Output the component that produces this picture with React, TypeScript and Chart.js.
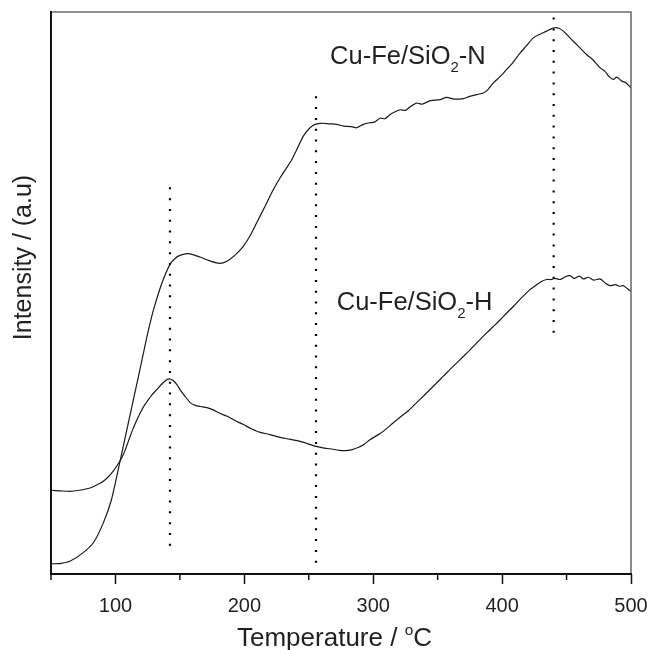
import React, { useEffect, useRef } from 'react';
import { Chart, registerables } from 'chart.js';

Chart.register(...registerables);

const FONT = '"Liberation Sans", Arial, Helvetica, sans-serif';
const INK = '#231f20';

// Cu-Fe/SiO2-N profile (temperature °C, intensity a.u.)
const nTemp = [
  50, 58, 65, 75, 83, 90.6, 97, 103.5, 108.7, 113.9, 118, 121.6, 125.5, 129.4, 134.6, 138.5, 142.3, 146, 150,
  156.5, 165.6, 172, 179.8, 184, 188.9, 194, 199.2, 204, 209.6, 216, 222.5, 228, 232.9, 237, 240.6, 246, 251,
  255, 260, 266, 271.7, 277, 283.3, 287, 292.3, 297, 301, 305.3, 309, 314, 320.8, 325, 329, 333.7, 338, 344,
  351.8, 357, 363, 369.9, 375, 380.3, 385.4, 389, 393.2, 398, 403.6, 408, 413.9, 419, 424.2, 429, 434.6, 438,
  441, 444, 447.5, 451, 455.2, 460, 465.6, 470, 475.9, 480, 483, 486.3, 489, 492.8, 496, 500,
];
const nIntensity = [
  1.8, 1.9, 2.3, 3.8, 5.6, 9.1, 13.3, 20.0, 25.5, 31.0, 35.3, 39.2, 43.3, 46.9, 50.8, 53.2, 55.1, 56.1, 56.7,
  57.0, 56.4, 55.8, 55.3, 55.4, 56.0, 57.0, 58.3, 60.0, 62.5, 65.4, 68.4, 70.6, 72.3, 73.8, 75.5, 78.0, 79.4,
  80.0, 80.2, 80.1, 80.0, 79.7, 79.6, 79.4, 80.0, 80.3, 80.4, 81.1, 81.0, 81.9, 82.6, 82.5, 83.2, 83.8, 83.6, 84.2,
  84.4, 84.8, 84.5, 84.6, 85.0, 85.3, 85.6, 86.2, 87.4, 88.4, 89.8, 90.9, 92.7, 94.0, 95.4, 96.0, 96.6, 97.0,
  97.2, 97.1, 96.6, 95.8, 94.8, 93.7, 92.4, 91.6, 90.1, 89.4, 88.5, 88.0, 88.4, 87.7, 87.4, 86.5,
];

// Cu-Fe/SiO2-H profile
const hTemp = [
  50, 57, 64.7, 72, 80.3, 85, 90.6, 94.5, 98.3, 101.5, 104.9, 107.5, 110, 113.9, 117, 119.1, 121.6, 124.3, 128,
  132, 136, 139.5, 142.3, 145, 148, 150.1, 154, 158, 162, 166, 171, 175.9, 181, 186.3, 192, 199.2, 205, 212.2,
  220, 227.7, 235, 243.2, 249, 255.6, 262, 268.8, 274, 278.1, 283, 288.2, 293, 297.5, 304, 309, 315.6, 322, 327,
  333.7, 340, 347, 354.4, 360, 365, 369.9, 376, 382.8, 388, 393, 398.4, 403, 408.7, 414, 421.6, 427, 431, 434.6,
  438, 441, 445, 449, 452.7, 456, 460, 463, 467, 471, 476, 480, 483.7, 488, 491, 494, 497, 500,
];
const hIntensity = [
  14.9, 14.8, 14.7, 14.9, 15.3, 15.8, 16.5, 17.3, 18.3, 19.4, 20.7, 22.0, 23.6, 26.0, 27.6, 28.6, 29.7, 30.6, 31.8,
  32.8, 33.8, 34.5, 34.7, 34.4, 33.6, 32.8, 31.6, 30.5, 30.0, 29.8, 29.6, 29.2, 28.6, 28.1, 27.4, 26.6, 25.9, 25.2,
  24.8, 24.3, 24.0, 23.6, 23.2, 22.7, 22.4, 22.2, 22.0, 21.95, 22.1, 22.5, 23.1, 23.9, 24.8, 25.6, 26.9, 28.1, 29.0,
  30.5, 31.9, 33.5, 35.2, 36.5, 37.6, 38.7, 40.1, 41.7, 42.9, 44.0, 45.2, 46.3, 47.6, 48.9, 50.6, 51.5, 52.1, 52.4,
  52.4, 52.6, 52.4, 52.9, 53.1, 52.6, 53.0, 52.5, 52.8, 52.3, 52.5, 51.8, 51.3, 51.5, 51.2, 51.3, 50.8, 50.3,
];

// dotted reference lines
const markerTemps = [142.3, 255.6, 440];
const markerTops = [68.8, 85.0, 99.0];
const markerBottoms = [3.6, 1.2, 41.4];

// axis ticks
const majorTicks = [100, 200, 300, 400, 500];
const minorTicks = [50, 150, 250, 350, 450];

// series labels anchored in data space (left edge, baseline)
const seriesLabels = [
  { name: 'Cu-Fe/SiO', sub: '2', tail: '-N', x: 266.5, y: 90.8 },
  { name: 'Cu-Fe/SiO', sub: '2', tail: '-H', x: 271.7, y: 46.9 },
];

type Part = { t: string; size: number; dy: number };

function drawRich(ctx: CanvasRenderingContext2D, parts: Part[], x: number, y: number) {
  let cx = x;
  for (const p of parts) {
    ctx.font = `${p.size}px ${FONT}`;
    ctx.fillText(p.t, cx, y + p.dy);
    cx += ctx.measureText(p.t).width;
  }
}

export default function App() {
  const ref = useRef<HTMLCanvasElement>(null);

  useEffect(() => {
    const canvas = ref.current!;
    const toXY = (xs: number[], ys: number[]) => xs.map((x, i) => ({ x, y: ys[i] }));

    const curve = (xs: number[], ys: number[]) => ({
      type: 'line' as const,
      data: toXY(xs, ys),
      borderColor: '#1a1a1a',
      borderWidth: 1.2,
      pointRadius: 0,
      tension: 0.25,
      fill: false,
    });

    const markers = markerTemps.map((t, i) => ({
      type: 'line' as const,
      data: [
        { x: t, y: markerTops[i] },
        { x: t, y: markerBottoms[i] },
      ],
      borderColor: '#000',
      borderWidth: 2.2,
      borderDash: [2, 8.8],
      borderCapStyle: 'butt' as const,
      pointRadius: 0,
      tension: 0,
      fill: false,
    }));

    const overlay = {
      id: 'overlay',
      afterDraw(chart: any) {
        const { ctx, chartArea: a, scales } = chart;
        const xs = scales.x;
        const ys = scales.y;
        ctx.save();
        // frame
        ctx.lineCap = 'square';
        ctx.lineWidth = 1.6;
        ctx.strokeStyle = '#6d6d6d';
        ctx.beginPath();
        ctx.moveTo(a.left, a.top);
        ctx.lineTo(a.right, a.top);
        ctx.lineTo(a.right, a.bottom);
        ctx.stroke();
        ctx.strokeStyle = '#111';
        ctx.lineWidth = 2;
        ctx.beginPath();
        ctx.moveTo(a.left, a.top);
        ctx.lineTo(a.left, a.bottom);
        ctx.lineTo(a.right, a.bottom);
        ctx.stroke();
        // minor ticks
        ctx.lineCap = 'butt';
        ctx.lineWidth = 1.5;
        for (const v of minorTicks) {
          const px = xs.getPixelForValue(v);
          ctx.beginPath();
          ctx.moveTo(px, a.bottom);
          ctx.lineTo(px, a.bottom + 6);
          ctx.stroke();
        }
        // texts
        ctx.fillStyle = INK;
        ctx.textBaseline = 'alphabetic';
        ctx.textAlign = 'left';
        for (const l of seriesLabels) {
          drawRich(
            ctx,
            [
              { t: l.name, size: 25.5, dy: 0 },
              { t: l.sub, size: 15, dy: 8 },
              { t: l.tail, size: 25.5, dy: 0 },
            ],
            xs.getPixelForValue(l.x),
            ys.getPixelForValue(l.y)
          );
        }
        // x title
        drawRich(
          ctx,
          [
            { t: 'Temperature / ', size: 26, dy: 0 },
            { t: 'o', size: 15.5, dy: -11.5 },
            { t: 'C', size: 26, dy: 0 },
          ],
          237,
          646
        );
        // y title
        ctx.translate(31, 257.5);
        ctx.rotate(-Math.PI / 2);
        ctx.textAlign = 'center';
        ctx.font = `25px ${FONT}`;
        ctx.fillText('Intensity / (a.u)', 0, 0);
        ctx.restore();
      },
    };

    const chart = new Chart(canvas, {
      type: 'line',
      data: {
        datasets: [curve(nTemp, nIntensity), curve(hTemp, hIntensity), ...markers] as any,
      },
      options: {
        responsive: false,
        animation: false,
        devicePixelRatio: 1,
        layout: { padding: { top: 12, right: 20, left: 0, bottom: 0 } },
        plugins: { legend: { display: false }, tooltip: { enabled: false } },
        scales: {
          x: {
            type: 'linear',
            min: 50,
            max: 500,
            afterBuildTicks: (s: any) => {
              s.ticks = majorTicks.map((v) => ({ value: v }));
            },
            ticks: {
              autoSkip: false,
              maxRotation: 0,
              color: INK,
              padding: 10,
              font: { family: FONT, size: 20 },
              callback: (v: any) => String(v),
            },
            grid: {
              drawOnChartArea: false,
              drawTicks: true,
              tickLength: 10,
              tickWidth: 1.5,
              tickColor: '#111',
            },
            border: { display: false },
            afterFit: (s: any) => {
              s.height = 76;
              s.paddingLeft = 0;
              s.paddingRight = 0;
            },
          },
          y: {
            type: 'linear',
            min: 0,
            max: 100,
            ticks: { display: false },
            grid: { display: false },
            border: { display: false },
            afterFit: (s: any) => {
              s.width = 51;
              s.paddingTop = 0;
              s.paddingBottom = 0;
            },
          },
        },
      } as any,
      plugins: [overlay],
    });
    return () => chart.destroy();
  }, []);

  return (
    <div style={{ position: 'fixed', left: 0, top: 0, width: 651, height: 650, background: '#fff' }}>
      <canvas ref={ref} width={651} height={650} style={{ display: 'block' }} />
    </div>
  );
}
